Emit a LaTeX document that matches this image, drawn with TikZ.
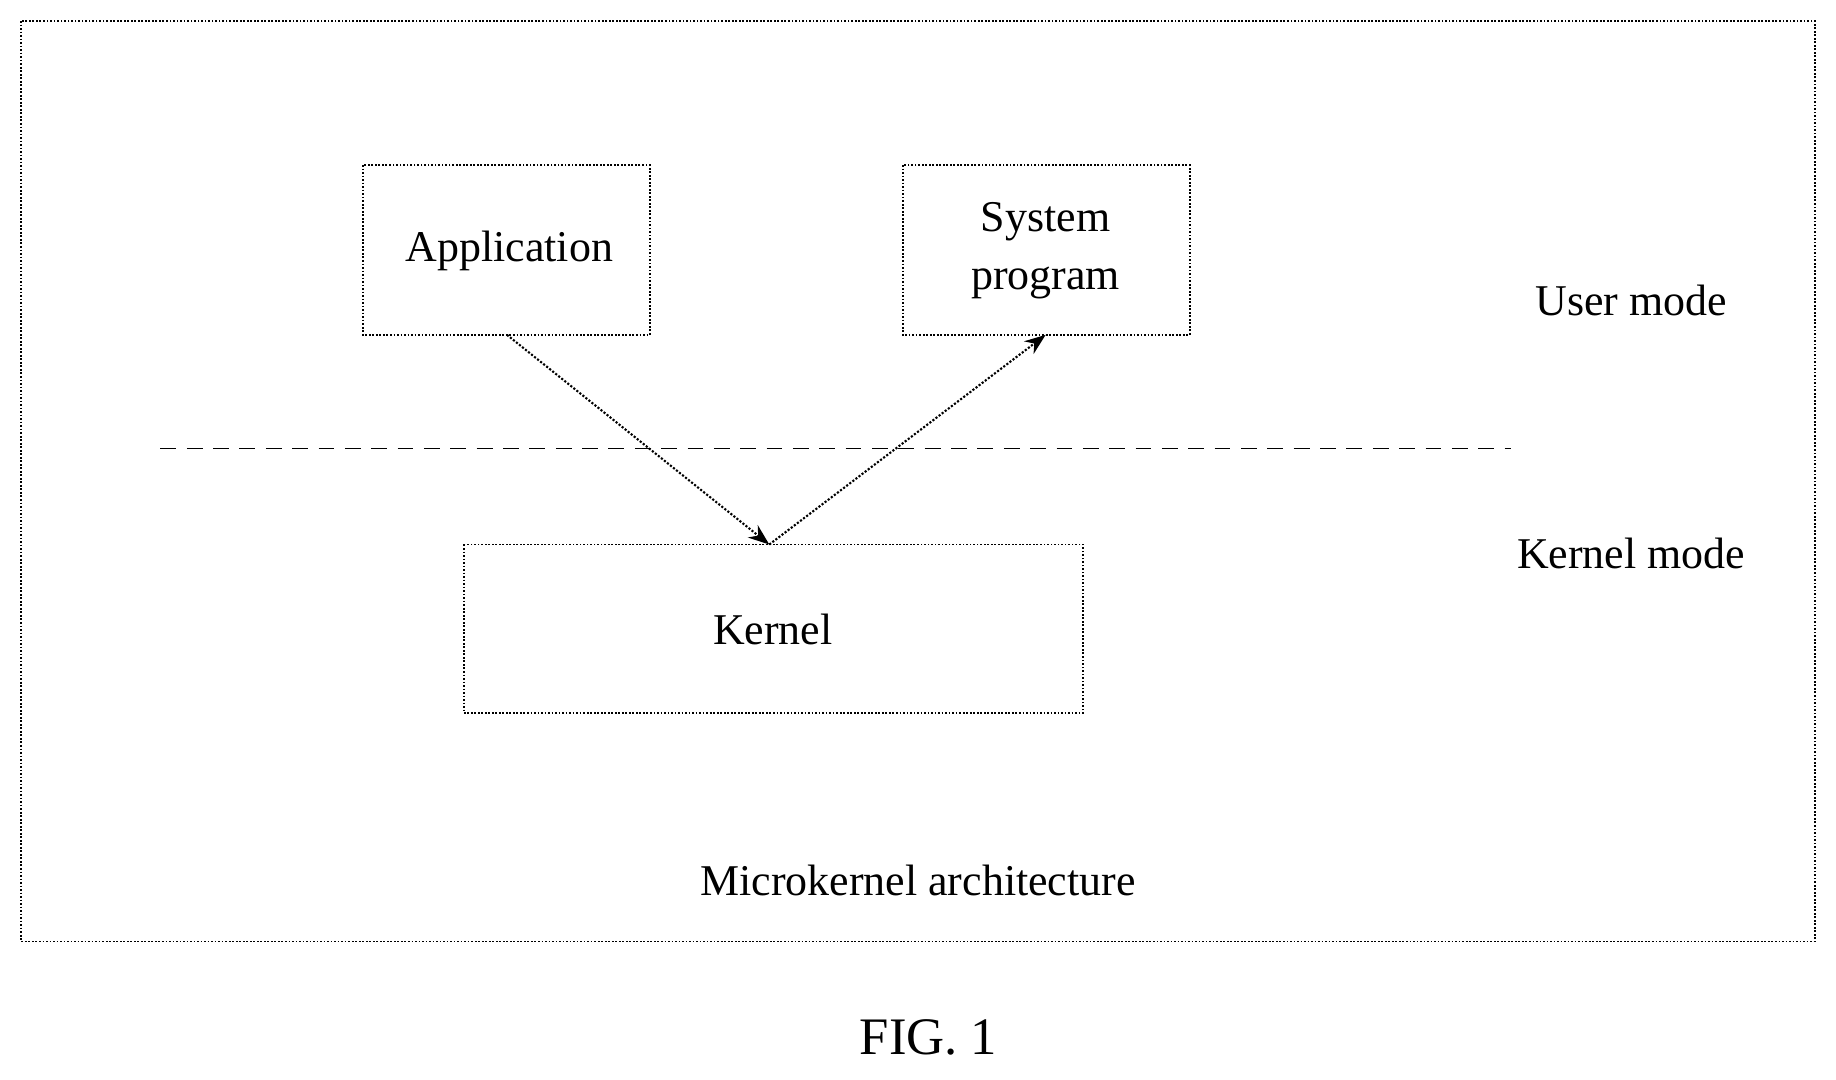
\documentclass[tikz,border=0pt]{standalone}
\usepackage{fontspec}
\setmainfont{Liberation Serif}
\usetikzlibrary{arrows.meta}
\begin{document}
\begin{tikzpicture}[x=0.02342cm, y=-0.02342cm,
  box/.style={draw, densely dotted, line width=1pt},
  lbl/.style={font=\fontsize{25}{33}\selectfont},
  flow/.style={densely dotted, line width=1.2pt, -{Stealth[length=12pt]}}]

 %%%%%%%%%% Frame %%%%%%%%%%
 \useasboundingbox (0,0) rectangle (1568,922);
 \draw [box] (18,18) rectangle (1550,804);

 %%%%%%%%%% Boxes %%%%%%%%%%
 \draw [box] (310,141) rectangle (555,286);
 \node [lbl] (app) at (435,214) {Application};
 \draw [box] (771,141) rectangle (1016,286);
 \node [lbl, align=center] (sys) at (893,214) {System\\program};
 \draw [box] (396,465) rectangle (925,609);
 \node [lbl] (kern) at (660,538) {Kernel};

 \coordinate (appS) at (433,286);
 \coordinate (sysS) at (893,286);
 \coordinate (kernN) at (657,465);

 %%%%%%%%%% Mode line %%%%%%%%%%
 \draw [dashed, line width=1pt, dash pattern=on 9pt off 6pt] (137,383) -- (1290,383);
 \node [lbl] (user) at (1393,257) {User mode};
 \node [lbl] (kmode) at (1393,473) {Kernel mode};

 %%%%%%%%%% Calls %%%%%%%%%%
 \draw [flow] (appS) -- (kernN);
 \draw [flow] (kernN) -- (sysS);

 \node [lbl] (title) at (784,752) {Microkernel architecture};
 \node [font=\fontsize{30}{34}\selectfont] (fig) at (793,886) {FIG. 1};

\end{tikzpicture}
\end{document}
